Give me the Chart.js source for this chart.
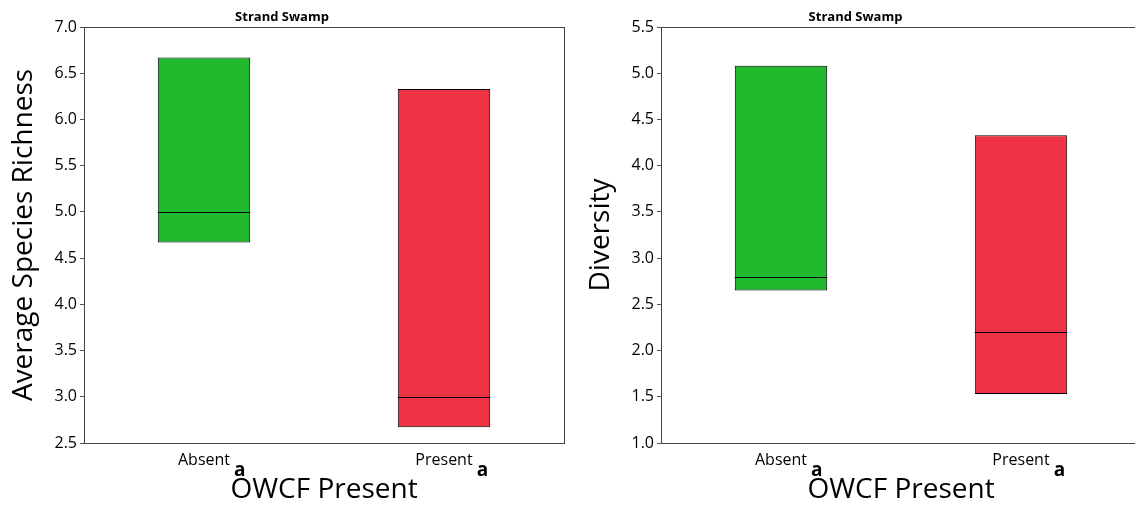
<!DOCTYPE html>
<html>
<head>
<meta charset="utf-8">
<script src="https://cdn.jsdelivr.net/npm/chart.js@4/dist/chart.umd.min.js"></script>
<style>
  html, body { margin: 0; padding: 0; background: #fff; }
  #wrap { position: relative; width: 1135px; height: 508px; overflow: hidden; }
  #c1 { position: absolute; left: 0; top: 0; }
  #c2 { position: absolute; left: 570px; top: 0; }
</style>
</head>
<body>
<div id="wrap">
  <canvas id="c1" width="570" height="508"></canvas>
  <canvas id="c2" width="586" height="508"></canvas>
</div>
<script>
// categorias y valores
const categorias = ["Absent", "Present"];
const sufijo = "a";

const riquezaBajo = [4.67, 2.67];
const riquezaAlto = [6.67, 6.33];
const riquezaMediana = [5.0, 3.0];

const diversidadBajo = [2.65, 1.53];
const diversidadAlto = [5.08, 4.33];
const diversidadMediana = [2.80, 2.20];

const colores = ["#21ba2e", "#ee3346"];
const FUENTE = "'Open Sans', 'Noto Sans', sans-serif";

// lineas de mediana dentro de cada caja
const medianaPlugin = {
  id: "mediana",
  afterDatasetsDraw(chart, args, opts) {
    const ctx = chart.ctx;
    const y = chart.scales.y;
    const meta = chart.getDatasetMeta(0);
    ctx.save();
    ctx.strokeStyle = "#000";
    ctx.lineWidth = 1;
    meta.data.forEach((bar, i) => {
      const py = Math.round(y.getPixelForValue(opts.valores[i])) + 0.5;
      ctx.beginPath();
      ctx.moveTo(bar.x - bar.width / 2, py);
      ctx.lineTo(bar.x + bar.width / 2, py);
      ctx.stroke();
    });
    ctx.restore();
  }
};

// marco del area del grafico
const marcoPlugin = {
  id: "marco",
  afterDatasetsDraw(chart) {
    const a = chart.chartArea;
    const ctx = chart.ctx;
    ctx.save();
    ctx.strokeStyle = "#444";
    ctx.lineWidth = 1;
    ctx.strokeRect(Math.round(a.left) + 0.5, Math.round(a.top) + 0.5,
      Math.round(a.right - a.left), Math.round(a.bottom - a.top));
    ctx.restore();
  }
};

// letra "a" en subindice despues de cada etiqueta
const sufijoPlugin = {
  id: "sufijo",
  afterDraw(chart) {
    const x = chart.scales.x;
    const ctx = chart.ctx;
    ctx.save();
    ctx.font = "16px " + FUENTE;
    const anchos = categorias.map(c => ctx.measureText(c).width);
    ctx.font = "bold 19px " + FUENTE;
    ctx.fillStyle = "#000";
    ctx.textBaseline = "middle";
    ctx.textAlign = "left";
    categorias.forEach((c, i) => {
      const px = x.getPixelForTick(i);
      ctx.fillText(sufijo, px + anchos[i] / 2 + 4, x.top + 28);
    });
    ctx.restore();
  }
};

function crearGrafico(id, bajo, alto, mediana, yMin, yMax, tituloY, anchoY, padTituloY, padDer) {
  const ctx = document.getElementById(id).getContext("2d");
  return new Chart(ctx, {
    type: "bar",
    data: {
      labels: categorias,
      datasets: [{
        data: bajo.map((b, i) => [b, alto[i]]),
        backgroundColor: colores,
        borderColor: "#000",
        borderWidth: 1,
        borderSkipped: false,
        barPercentage: 0.385,
        categoryPercentage: 1
      }]
    },
    options: {
      responsive: false,
      animation: false,
      devicePixelRatio: 1,
      layout: { padding: { left: 0, right: padDer, top: 0, bottom: 0 } },
      plugins: {
        legend: { display: false },
        tooltip: { enabled: false },
        title: {
          display: true,
          text: "Strand Swamp",
          color: "#000",
          font: { family: FUENTE, size: 13, weight: "bold", lineHeight: 1.2 },
          padding: { top: 9, bottom: 2.4 }
        },
        mediana: { valores: mediana }
      },
      scales: {
        x: {
          grid: { display: false },
          border: { display: false },
          ticks: {
            color: "#000",
            padding: 0,
            font: { family: FUENTE, size: 16 }
          },
          title: {
            display: true,
            text: "OWCF Present",
            color: "#000",
            font: { family: FUENTE, size: 28, lineHeight: 1.2 },
            padding: { top: 0, bottom: 1 }
          },
          afterFit(s) { s.height = 65; }
        },
        y: {
          min: yMin,
          max: yMax,
          grid: { drawOnChartArea: false, drawTicks: true, tickLength: 4, color: "#555" },
          border: { display: false },
          ticks: {
            stepSize: 0.5,
            color: "#000",
            padding: 3,
            font: { family: FUENTE, size: 16 },
            callback: v => Number(v).toFixed(1)
          },
          title: {
            display: true,
            text: tituloY,
            color: "#000",
            font: { family: FUENTE, size: 28, lineHeight: 1.2 },
            padding: { top: padTituloY, bottom: 0 }
          },
          afterFit(s) { s.width = anchoY; }
        }
      }
    },
    plugins: [medianaPlugin, marcoPlugin, sufijoPlugin]
  });
}

crearGrafico("c1", riquezaBajo, riquezaAlto, riquezaMediana, 2.5, 7.0,
  "Average Species Richness", 84, 7, 6);
crearGrafico("c2", diversidadBajo, diversidadAlto, diversidadMediana, 1.0, 5.5,
  "Diversity", 91, 14, 15);
</script>
</body>
</html>
